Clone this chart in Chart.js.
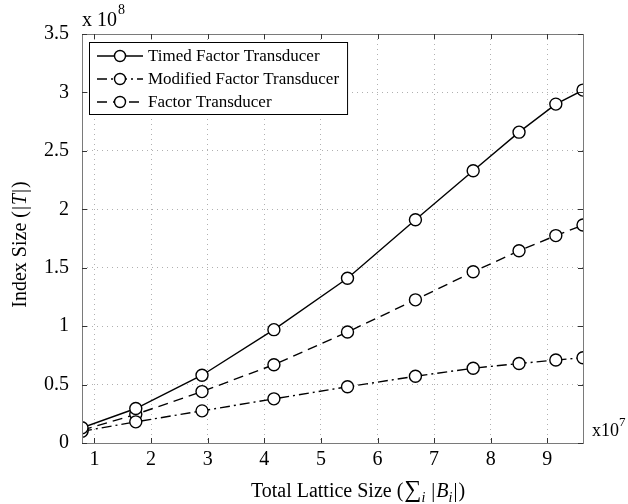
<!DOCTYPE html>
<html>
<head>
<meta charset="utf-8">
<script src="https://cdn.jsdelivr.net/npm/chart.js@4.4.0/dist/chart.umd.min.js"></script>
<style>
  html, body { margin: 0; padding: 0; background: #fff; }
  #wrap { width: 628px; height: 504px; }
</style>
</head>
<body>
<div id="wrap"><canvas id="indexChart" width="628" height="504"></canvas></div>
<script>
// -----------------------------
// Data (x in units of 1e7, y in units of 1e8)
// -----------------------------
const latticeSize  = [0.78, 1.73, 2.90, 4.17, 5.47, 6.67, 7.69, 8.50, 9.15, 9.63];
const timedSize    = [0.13, 0.295, 0.58, 0.97, 1.41, 1.91, 2.33, 2.66, 2.90, 3.02];
const modifiedSize = [0.10, 0.181, 0.275, 0.378, 0.481, 0.571, 0.64, 0.68, 0.71, 0.73];
const factorSize   = [0.11, 0.245, 0.44, 0.67, 0.95, 1.225, 1.465, 1.645, 1.775, 1.865];

const seriesNames = ["Timed Factor Transducer", "Modified Factor Transducer", "Factor Transducer"];
const xTicks = [1, 2, 3, 4, 5, 6, 7, 8, 9];
const yTicks = [0, 0.5, 1, 1.5, 2, 2.5, 3, 3.5];

const FONT = "'Liberation Serif', 'Times New Roman', serif";
const FS = 20;      // axes text
const LEG_FS = 17;  // legend text

function toPoints(ys) {
  return latticeSize.map((x, i) => ({ x: x, y: ys[i] }));
}

function lineStyle(dash) {
  return {
    borderColor: "#000",
    borderWidth: 1.4,
    borderDash: dash,
    pointRadius: 6,
    pointHoverRadius: 6,
    pointBackgroundColor: "#fff",
    pointBorderColor: "#000",
    pointBorderWidth: 1.4,
    fill: false,
    tension: 0
  };
}

// -----------------------------
// Text helpers (mixed italic / subscripts)
// -----------------------------
function runFont(r) {
  return (r.italic ? "italic " : "") + (r.size || FS) + "px " + FONT;
}

function runWidth(ctx, r) {
  ctx.font = runFont(r);
  return ctx.measureText(r.t).width + (r.gap || 0);
}

function drawRuns(ctx, runs, cx, y) {
  let total = 0;
  runs.forEach(r => { total += runWidth(ctx, r); });
  let x = cx - total / 2;
  runs.forEach(r => {
    ctx.font = runFont(r);
    ctx.fillText(r.t, x, y + (r.dy || 0));
    x += runWidth(ctx, r);
  });
}

// -----------------------------
// Frame, titles, legend
// -----------------------------
const framePlugin = {
  id: "frame",
  afterDraw(chart) {
    const ctx = chart.ctx;
    const a = chart.chartArea;
    const xs = chart.scales.x;
    const ys = chart.scales.y;

    ctx.save();
    ctx.setLineDash([]);

    // box
    ctx.strokeStyle = "#7a7a7a";
    ctx.lineWidth = 1;
    ctx.strokeRect(a.left + 0.5, a.top + 0.5, a.right - a.left, a.bottom - a.top);

    // inward ticks on all sides
    ctx.strokeStyle = "#333";
    ctx.beginPath();
    xTicks.forEach(v => {
      const px = Math.round(xs.getPixelForValue(v)) + 0.5;
      ctx.moveTo(px, a.bottom); ctx.lineTo(px, a.bottom - 5);
      ctx.moveTo(px, a.top); ctx.lineTo(px, a.top + 5);
    });
    yTicks.forEach(v => {
      const py = Math.round(ys.getPixelForValue(v)) + 0.5;
      ctx.moveTo(a.left, py); ctx.lineTo(a.left + 5, py);
      ctx.moveTo(a.right, py); ctx.lineTo(a.right - 5, py);
    });
    ctx.stroke();

    ctx.fillStyle = "#000";
    ctx.textBaseline = "alphabetic";
    ctx.textAlign = "left";

    // exponents
    ctx.font = FS + "px " + FONT;
    ctx.fillText("x 10", a.left, 26);
    let w = ctx.measureText("x 10").width;
    ctx.font = "14px " + FONT;
    ctx.fillText("8", a.left + w + 1, 14);

    ctx.font = "18px " + FONT;
    ctx.fillText("x10", a.right + 9, 436);
    w = ctx.measureText("x10").width;
    ctx.font = "13px " + FONT;
    ctx.fillText("7", a.right + 9 + w, 426);

    // x title
    drawRuns(ctx, [
      { t: "Total Lattice Size (", gap: 1 },
      { t: "\u2211", size: 24 },
      { t: "i", italic: true, size: 14, dy: 5, gap: 6 },
      { t: "|", gap: 1 },
      { t: "B", italic: true },
      { t: "i", italic: true, size: 14, dy: 5, gap: 1 },
      { t: "|", gap: 1 },
      { t: ")" }
    ], 358, 497);

    // y title
    ctx.save();
    ctx.translate(26, (a.top + a.bottom) / 2 + 6);
    ctx.rotate(-Math.PI / 2);
    drawRuns(ctx, [
      { t: "Index Size (", gap: 1 },
      { t: "|", gap: 1 },
      { t: "T", italic: true, gap: 1 },
      { t: "|", gap: 1 },
      { t: ")" }
    ], 0, 0);
    ctx.restore();

    // legend
    const lx = a.left + 7, ly = a.top + 8;
    const rowH = 23;
    ctx.font = LEG_FS + "px " + FONT;
    let maxW = 0;
    seriesNames.forEach(n => { maxW = Math.max(maxW, ctx.measureText(n).width); });
    const textX = lx + 59;
    const boxW = textX + maxW + 8 - lx;
    const boxH = rowH * seriesNames.length + 3;
    ctx.fillStyle = "#fff";
    ctx.fillRect(lx, ly, boxW, boxH);
    ctx.strokeStyle = "#000";
    ctx.lineWidth = 1;
    ctx.strokeRect(lx + 0.5, ly + 0.5, boxW, boxH);

    chart.data.datasets.forEach((ds, i) => {
      const yy = ly + 14 + i * rowH;
      ctx.strokeStyle = "#000";
      ctx.lineWidth = ds.borderWidth;
      ctx.setLineDash(ds.borderDash || []);
      ctx.beginPath();
      ctx.moveTo(lx + 8, yy);
      ctx.lineTo(lx + 54, yy);
      ctx.stroke();
      ctx.setLineDash([]);
      ctx.beginPath();
      ctx.arc(lx + 31, yy, ds.pointRadius - 0.5, 0, Math.PI * 2);
      ctx.fillStyle = "#fff";
      ctx.fill();
      ctx.lineWidth = ds.pointBorderWidth;
      ctx.stroke();
      ctx.fillStyle = "#000";
      ctx.font = LEG_FS + "px " + FONT;
      ctx.textBaseline = "middle";
      ctx.fillText(ds.label, textX, yy + 1);
    });

    ctx.restore();
  }
};

// -----------------------------
// Chart
// -----------------------------
const ctx = document.getElementById("indexChart").getContext("2d");

new Chart(ctx, {
  type: "line",
  data: {
    datasets: [
      Object.assign({ label: seriesNames[0], data: toPoints(timedSize) }, lineStyle([])),
      Object.assign({ label: seriesNames[1], data: toPoints(modifiedSize) }, lineStyle([10, 4, 2, 4])),
      Object.assign({ label: seriesNames[2], data: toPoints(factorSize) }, lineStyle([10, 6]))
    ]
  },
  options: {
    responsive: false,
    animation: false,
    layout: { padding: { left: 0, right: 45, top: 34, bottom: 0 } },
    plugins: {
      legend: { display: false },
      tooltip: { enabled: false }
    },
    scales: {
      x: {
        type: "linear",
        min: 0.78,
        max: 9.63,
        afterBuildTicks: scale => { scale.ticks = xTicks.map(v => ({ value: v })); },
        afterFit: scale => { scale.height = 61; },
        grid: { color: "#b0b0b0", lineWidth: 1, drawTicks: false },
        border: { display: false, dash: [1, 4] },
        ticks: {
          padding: 5,
          color: "#000",
          font: { family: FONT, size: FS },
          maxRotation: 0,
          callback: v => String(v)
        }
      },
      y: {
        min: 0,
        max: 3.5,
        afterBuildTicks: scale => { scale.ticks = yTicks.map(v => ({ value: v })); },
        afterFit: scale => { scale.width = 82; },
        grid: { color: "#b0b0b0", lineWidth: 1, drawTicks: false },
        border: { display: false, dash: [1, 4] },
        ticks: {
          padding: 13,
          color: "#000",
          font: { family: FONT, size: FS },
          callback: v => String(v)
        }
      }
    }
  },
  plugins: [framePlugin]
});
</script>
</body>
</html>
